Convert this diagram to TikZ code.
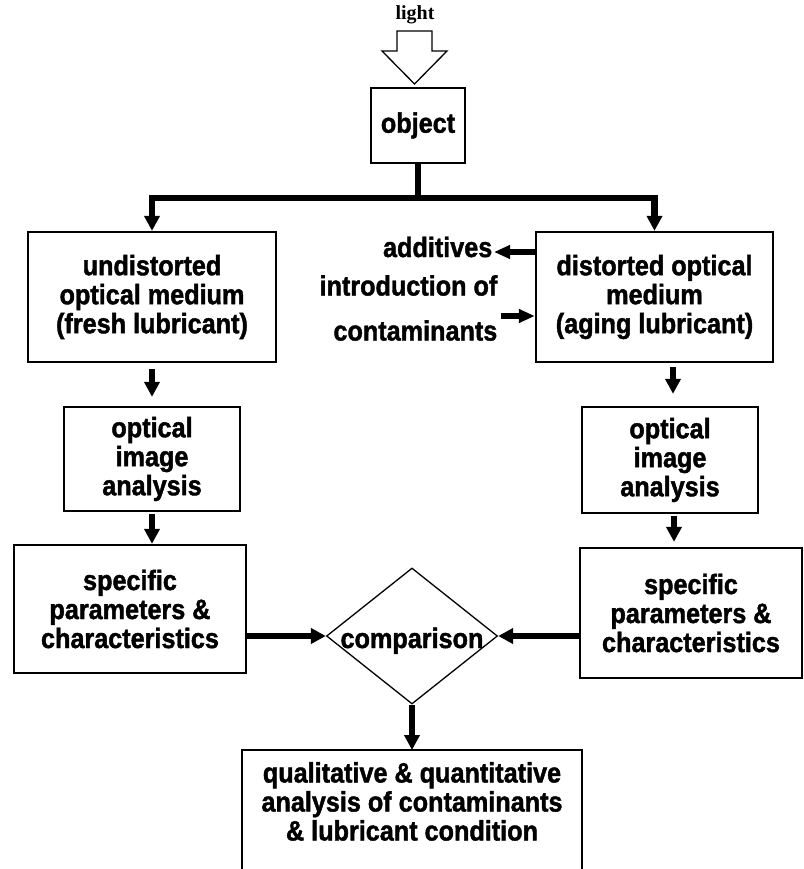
\documentclass[tikz,border=0pt]{standalone}
\usepackage{fontspec}
\setmainfont{Liberation Sans}[FakeStretch=0.9,BoldFeatures={FakeBold=1.5}]
\newfontfamily\lightfont{Liberation Serif}
\usetikzlibrary{arrows.meta,shapes.geometric,positioning}

\begin{document}
\begin{tikzpicture}[x=1pt,y=-1pt,
  box/.style={draw,line width=2.3pt,align=center,inner sep=0pt,
    font=\fontsize{28}{29}\selectfont\bfseries},
  lbl/.style={inner sep=1.5pt,font=\fontsize{28}{29}\selectfont\bfseries},
  conn/.style={line width=6.5pt,-{Triangle[width=15pt,length=15pt]}},
  side/.style={line width=5.5pt,-{Triangle[width=13pt,length=16pt]}}]
  \useasboundingbox (0,0) rectangle (803,869);
  \clip (0,0) rectangle (803,869);
  % light source
  \node[font=\fontsize{20}{24}\selectfont\lightfont\bfseries] (light) at (415,15) {light};
  \draw[line width=1.3pt] (397,31) -- (432,31) -- (432,51) -- (447,51) -- (414.5,84)
    -- (382,51) -- (397,51) -- cycle;
  % boxes
  \node[box,minimum width=94pt,minimum height=75pt] (obj) at (418,125.5) {object};
  \node[box,minimum width=248pt,minimum height=130pt] (undist) at (152,297)
    {undistorted\\optical medium\\(fresh lubricant)};
  \node[box,minimum width=237pt,minimum height=130pt] (dist) at (654.5,297)
    {distorted optical\\medium\\(aging lubricant)};
  \node[box,minimum width=176pt,minimum height=104pt] (oiaL) at (152,459)
    {optical\\image\\analysis};
  \node[box,minimum width=176pt,minimum height=106pt] (oiaR) at (670,460)
    {optical\\image\\analysis};
  \node[box,minimum width=232pt,minimum height=128pt] (specL) at (130,609)
    {specific\\parameters \&\\characteristics};
  \node[box,minimum width=222pt,minimum height=130pt] (specR) at (691,613)
    {specific\\parameters \&\\characteristics};
  \node[draw,diamond,line width=1.3pt,aspect=1.25,inner xsep=-9pt,inner ysep=0pt,
    text height=30pt,text depth=6pt,minimum width=171pt,minimum height=136pt,
    font=\fontsize{28}{29}\selectfont\bfseries] (cmp) at (412,636) {comparison};
  \node[lbl,align=center,minimum width=340pt,inner ysep=12pt,anchor=north] (res) at (412,750)
    {qualitative \& quantitative\\analysis of contaminants\\\& lubricant condition};
  \draw[line width=2.3pt] ([yshift=-40pt]res.south west) |- (res.north east)
    -- ([yshift=-40pt]res.south east);
  % side labels
  \node[lbl,anchor=east] (adds) at (494,247) {additives};
  \node[lbl,anchor=east,align=right] (contam) at (499,308) {introduction of\\[16pt]contaminants};
  \coordinate (addpt) at ([yshift=-5pt]adds.east);
  \coordinate (conpt) at ([yshift=-8pt]contam.east);
  \draw[side] (addpt -| dist.west) -- (addpt);
  \draw[side,shorten <=1.5pt] (conpt) -- (conpt -| dist.west);
  % connectors
  \draw[line width=6.5pt] (obj.south) -- ++(0,34) coordinate (fork);
  \draw[conn] (fork) -| (undist.north);
  \draw[conn] (fork) -| (dist.north);
  \draw[conn,shorten <=6pt,shorten >=9pt] (undist.south -| oiaL.north) -- (oiaL.north);
  \draw[conn,shorten <=4pt,shorten >=12pt] ([xshift=3pt]dist.south -| oiaR.north) -- ([xshift=3pt]oiaR.north);
  \draw[conn,shorten <=2pt] (oiaL.south) -- (oiaL.south |- specL.north);
  \draw[conn,shorten <=2pt,shorten >=5pt] ([xshift=4pt]oiaR.south) -- ([xshift=4pt]oiaR.south |- specR.north);
  \draw[conn] (cmp.west -| specL.east) -- (cmp.west);
  \draw[conn] (cmp.east -| specR.west) -- (cmp.east);
  \draw[conn] (cmp.south) -- (res.north);
\end{tikzpicture}
\end{document}
